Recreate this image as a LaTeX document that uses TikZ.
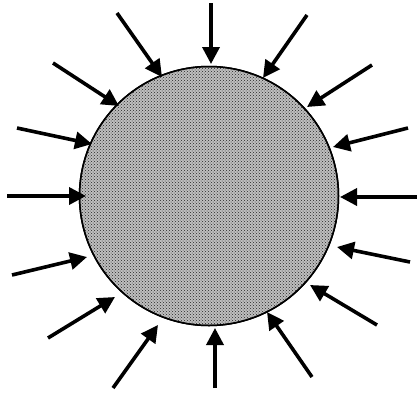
\documentclass[tikz,border=0pt]{standalone}
\usetikzlibrary{arrows.meta,patterns}
\begin{document}
\begin{tikzpicture}[x=1pt,y=-1pt,
  push/.style={line width=3.6pt,-{Triangle[length=17pt,width=17pt]}},
  ball/.style={line width=1.5pt,draw=black,fill=black!25}]
\useasboundingbox (0,0) rectangle (417,394);
\fill[white] (0,0) rectangle (417,394);
\path[ball] (209,196) circle (129.5);
\fill[pattern=crosshatch dots,pattern color=black!85] (209,196) circle (128.5);
\draw[line width=1.5pt] (209,196) circle (129.5);
\foreach \i/\tx/\ty/\hx/\hy in {
 1/211/3/211/64, 2/307/15/263/78, 3/372/65/307/107, 4/408/128/333/147,
 5/417/197/340/197, 6/410/262/337/247, 7/377/325/310/285, 8/312/377/267/312,
 9/215/388/215/328, 10/113/388/158/325, 11/48/338/115/297, 12/12/275/87/257,
 13/7/196/86/196, 14/17/128/92/144, 15/53/63/119/106, 16/117/13/162/77}{
  \coordinate (t\i) at (\tx,\ty);
  \coordinate (h\i) at (\hx,\hy);
  \draw[push] (t\i) -- (h\i);
}
\end{tikzpicture}
\end{document}
